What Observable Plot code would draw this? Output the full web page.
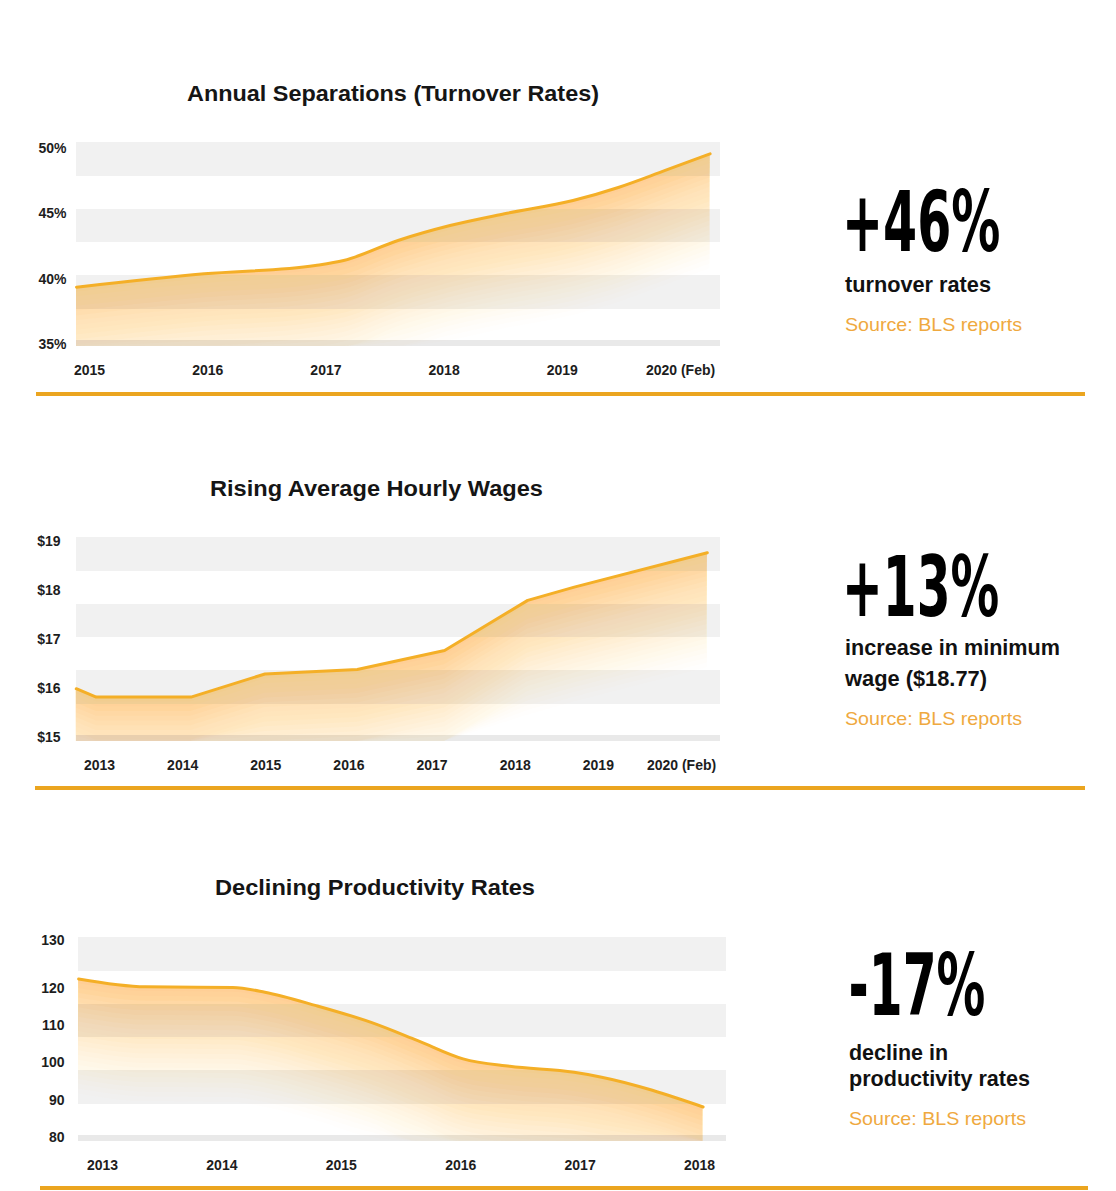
<!DOCTYPE html>
<html>
<head>
<meta charset="utf-8">
<script src="https://cdn.jsdelivr.net/npm/d3@7"></script>
<script src="https://cdn.jsdelivr.net/npm/@observablehq/plot@0.6"></script>
<style>
  html, body { margin: 0; padding: 0; background: #fff; }
  #page { position: relative; width: 1116px; height: 1191px; overflow: hidden; background: #fff; }
  .chart { position: absolute; left: 0; }
  .chart svg { display: block; }
  #labels { position: absolute; left: 0; top: 0; pointer-events: none; }
  .rule { position: absolute; height: 4px; background: #EBA51F; }
</style>
</head>
<body>
<div id="page">
  <div class="chart" id="turnover" style="top:130px"></div>
  <div class="chart" id="wages" style="top:525px"></div>
  <div class="chart" id="productivity" style="top:925px"></div>
  <svg id="labels" width="1116" height="1191"></svg>
</div>
<script>
// ---- Annual separations (turnover rate, %) ----
const turnoverYear = [2014.89, 2015.97, 2016.91, 2017.15, 2017.61, 2018.05, 2018.51, 2019.09, 2019.48, 2019.87, 2020.25];
const turnoverRate = [39.38, 40.40, 41.04, 41.42, 42.95, 44.09, 44.99, 46.00, 47.02, 48.30, 49.57];
const turnoverYTicks = [35, 40, 45, 50];
const turnoverXTicks = [2015, 2016, 2017, 2018, 2019, 2020];
const turnoverXLabels = ["2015", "2016", "2017", "2018", "2019", "2020 (Feb)"];

// ---- Average hourly wages ($) ----
const wageYear = [2012.72, 2012.96, 2014.10, 2014.99, 2016.10, 2017.15, 2018.15, 2018.71, 2020.31];
const wageValue = [16.00, 15.83, 15.83, 16.30, 16.39, 16.78, 17.80, 18.07, 18.77];
const wageYTicks = [15, 16, 17, 18, 19];
const wageXTicks = [2013, 2014, 2015, 2016, 2017, 2018, 2019, 2020];
const wageXLabels = ["2013", "2014", "2015", "2016", "2017", "2018", "2019", "2020 (Feb)"];

// ---- Productivity index ----
const productivityYear = [2012.80, 2013.36, 2014.09, 2014.36, 2014.79, 2015.25, 2015.64, 2016.02, 2016.41, 2016.95, 2017.18, 2018.03];
const productivityIndex = [122.0, 120.35, 120.2, 119.0, 115.4, 110.9, 106.0, 101.1, 99.1, 97.5, 96.2, 88.2];
const productivityYTicks = [80, 90, 100, 110, 120, 130];
const productivityXTicks = [2013, 2014, 2015, 2016, 2017, 2018];
const productivityXLabels = ["2013", "2014", "2015", "2016", "2017", "2018"];

// ---- Headline text ----
const chartTitles = ["Annual Separations (Turnover Rates)", "Rising Average Hourly Wages", "Declining Productivity Rates"];
const statFigures = ["+46%", "+13%", "-17%"];
const statNotes = [["turnover rates"], ["increase in minimum", "wage ($18.77)"], ["decline in", "productivity rates"]];
const statSource = "Source: BLS reports";

// ---- Shared styling ----
const LINE = "#F4AF27";
const GLOW = "#F6BF42";
const STRIPE = "#F1F1F1";
const BASE_STRIPE = "#E9E9E9";
const BODY_FONT = '"Liberation Sans", Arial, Helvetica, sans-serif';
const FIGURE_FONT = '"Liberation Sans Narrow", "DejaVu Sans Condensed", "Liberation Sans", sans-serif';

const SVG_HEIGHT = 256, FRAME_TOP = 12, FRAME_BOTTOM = 216;
// grey background stripes, in pixels below the top of the plot frame
const STRIPE_ROWS = [[0, 34], [67, 100], [133, 167], [198, 204]];

// Soft glow under the line: stacked translucent areas whose combined
// opacity falls off with distance below the line.
function glowLayers(data, y, curve) {
  const n = 24, fade = 115, peak = 0.52;
  const level = k => (k >= n ? 0 : peak * Math.pow(1 - k / n, 1.2));
  const marks = [];
  for (let k = 0; k < n; k++) {
    const opacity = 1 - (1 - level(k)) / (1 - level(k + 1));
    const depth = (k + 1) * fade / n;
    marks.push(Plot.areaY(data, {
      x: "x",
      y2: "y",
      y1: d => y.invert(Math.min(y.apply(d.y) + depth, FRAME_BOTTOM)),
      fill: GLOW,
      fillOpacity: opacity,
      curve
    }));
  }
  return marks;
}

function areaChart({years, values, curve, width, marginLeft, xDomain, xTicks, xLabels, yDomain, yRange, yTicks, yFormat, yPadding}) {
  const data = years.map((x, i) => ({x, y: values[i]}));
  const yScale = Plot.scale({y: {type: "linear", domain: yDomain, range: yRange}});
  const stripes = STRIPE_ROWS.map(([a, b], i) => ({
    y1: yScale.invert(FRAME_TOP + a),
    y2: yScale.invert(FRAME_TOP + b),
    base: i === STRIPE_ROWS.length - 1
  }));
  const label = new Map(xTicks.map((t, i) => [t, xLabels[i]]));
  return Plot.plot({
    width,
    height: SVG_HEIGHT,
    marginTop: FRAME_TOP,
    marginBottom: SVG_HEIGHT - FRAME_BOTTOM,
    marginLeft,
    marginRight: 20,
    x: {type: "linear", domain: xDomain},
    y: {type: "linear", domain: yDomain, range: yRange, zero: false},
    style: {fontFamily: BODY_FONT, fontSize: "14px", fontWeight: "bold", color: "#1d1d1d", background: "transparent", overflow: "visible"},
    marks: [
      Plot.rect(stripes, {y1: "y1", y2: "y2", fill: d => (d.base ? BASE_STRIPE : STRIPE)}),
      ...glowLayers(data, yScale, curve),
      Plot.line(data, {x: "x", y: "y", stroke: LINE, strokeWidth: 3, curve, strokeLinejoin: "round"}),
      Plot.axisX(xTicks, {tickSize: 0, tickPadding: 19, tickFormat: d => label.get(d), label: null}),
      Plot.axisY(yTicks, {tickSize: 0, tickPadding: yPadding, tickFormat: yFormat, label: null})
    ]
  });
}

document.getElementById("turnover").append(areaChart({
  years: turnoverYear, values: turnoverRate, curve: "monotone-x",
  width: 740, marginLeft: 76,
  xDomain: [2014.89, 2020.338], xTicks: turnoverXTicks, xLabels: turnoverXLabels,
  yDomain: [34.85, 50.435], yRange: [216, 12], yTicks: turnoverYTicks,
  yFormat: d => d + "%", yPadding: 10
}));

document.getElementById("wages").append(areaChart({
  years: wageYear, values: wageValue, curve: "linear",
  width: 740, marginLeft: 76,
  xDomain: [2012.723, 2020.469], xTicks: wageXTicks, xLabels: wageXLabels,
  yDomain: [14.925, 19.08], yRange: [216, 12], yTicks: wageYTicks,
  yFormat: d => "$" + d, yPadding: 16
}));

// the productivity axis is compressed above 120
document.getElementById("productivity").append(areaChart({
  years: productivityYear, values: productivityIndex, curve: "monotone-x",
  width: 746, marginLeft: 78,
  xDomain: [2012.799, 2018.226], xTicks: productivityXTicks, xLabels: productivityXLabels,
  yDomain: [78.93, 80, 120, 130, 130.63], yRange: [216, 212, 63, 15, 12], yTicks: productivityYTicks,
  yFormat: d => String(d), yPadding: 14
}));

// ---- Titles, headline figures and notes ----
const labels = d3.select("#labels");
const titleLayout = [{x: 393, y: 101, w: 412}, {x: 376.5, y: 496, w: 333}, {x: 375, y: 895, w: 320}];
const figureLayout = [
  {x: 847, top: 188, base: 251, w: 152},
  {x: 847, top: 553, base: 616, w: 151},
  {x: 851, top: 951, base: 1015, w: 133}
];
const noteLayout = [
  {x: 845, ys: [291.7], ws: [146]},
  {x: 845, ys: [655, 686], ws: [215, 142]},
  {x: 849, ys: [1060, 1086], ws: [99, 181]}
];
const sourceLayout = [{x: 845, y: 331}, {x: 845, y: 725}, {x: 849, y: 1125}];
const ruleLayout = [{y: 392, x: 36, w: 1049}, {y: 786, x: 35, w: 1050}, {y: 1186, x: 40, w: 1048}];

chartTitles.forEach((t, i) => {
  const L = titleLayout[i];
  labels.append("text")
    .attr("x", L.x).attr("y", L.y)
    .attr("text-anchor", "middle")
    .attr("font-family", BODY_FONT).attr("font-weight", "bold").attr("font-size", 22)
    .attr("fill", "#151515")
    .attr("textLength", L.w).attr("lengthAdjust", "spacingAndGlyphs")
    .text(t);
});

const ctx = document.createElement("canvas").getContext("2d");
const FIGURE_SIZE = 88;
ctx.font = `bold ${FIGURE_SIZE}px ${FIGURE_FONT}`;
statFigures.forEach((t, i) => {
  const L = figureLayout[i];
  const m = ctx.measureText(t);
  const ink = m.actualBoundingBoxLeft + m.actualBoundingBoxRight;
  const sx = L.w / ink;
  const sy = (L.base - L.top) / m.actualBoundingBoxAscent;
  const tx = L.x + m.actualBoundingBoxLeft * sx;
  labels.append("text")
    .attr("transform", `translate(${tx},${L.base}) scale(${sx},${sy})`)
    .attr("font-family", FIGURE_FONT).attr("font-weight", "bold").attr("font-size", FIGURE_SIZE)
    .attr("fill", "#000")
    .text(t);
});

statNotes.forEach((lines, i) => {
  const L = noteLayout[i];
  lines.forEach((line, j) => {
    labels.append("text")
      .attr("x", L.x).attr("y", L.ys[j])
      .attr("font-family", BODY_FONT).attr("font-weight", "bold").attr("font-size", 21.5)
      .attr("fill", "#111")
      .attr("textLength", L.ws[j]).attr("lengthAdjust", "spacingAndGlyphs")
      .text(line);
  });
  const S = sourceLayout[i];
  labels.append("text")
    .attr("x", S.x).attr("y", S.y)
    .attr("font-family", BODY_FONT).attr("font-size", 18.5)
    .attr("fill", "#EFA93F")
    .attr("textLength", 177).attr("lengthAdjust", "spacingAndGlyphs")
    .text(statSource);
});

const page = document.getElementById("page");
ruleLayout.forEach(r => {
  const div = document.createElement("div");
  div.className = "rule";
  div.style.top = r.y + "px";
  div.style.left = r.x + "px";
  div.style.width = r.w + "px";
  page.append(div);
});
</script>
</body>
</html>
